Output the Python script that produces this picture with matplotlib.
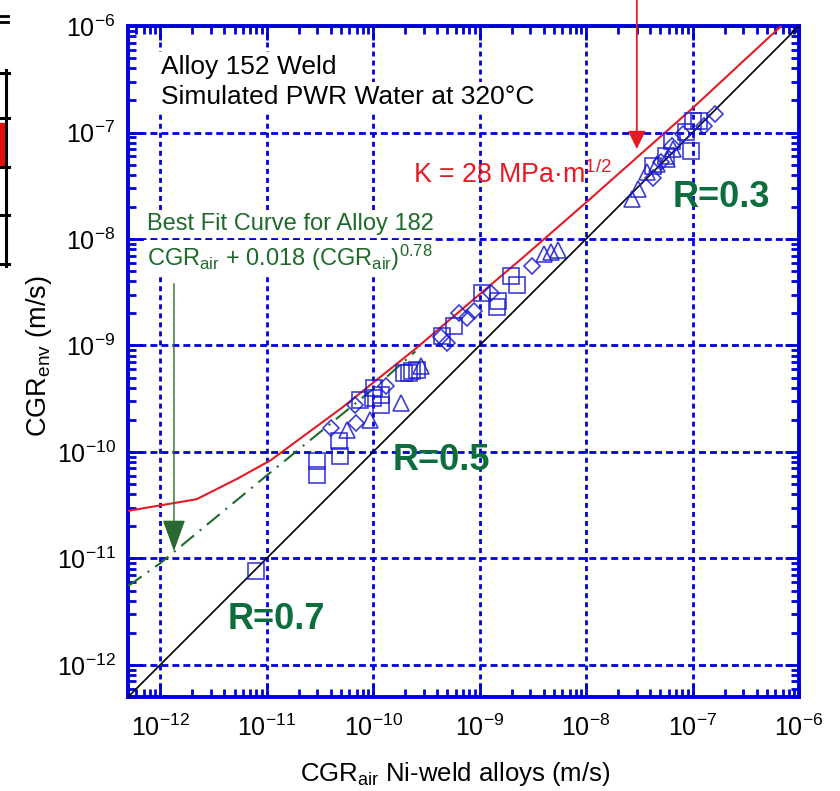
import numpy as np
import matplotlib
matplotlib.use('Agg')
import matplotlib.pyplot as plt
from matplotlib.ticker import FixedLocator, NullFormatter
from matplotlib.lines import Line2D
from matplotlib.patches import Rectangle

plt.rcParams['font.family'] = ['Liberation Sans', 'DejaVu Sans']
plt.rcParams['mathtext.fontset'] = 'custom'
plt.rcParams['mathtext.rm'] = 'Liberation Sans'
plt.rcParams['mathtext.it'] = 'Liberation Sans:italic'
plt.rcParams['mathtext.bf'] = 'Liberation Sans:bold'

blue = '#0000d8'
mk_blue = '#1c1cd0'
red = '#e51b24'
rgreen = '#0d6e3d'
fgreen = '#1e6b2a'

# Crack growth rates (m/s): air reference vs. environment, Alloy 152 weld data
sq_air = [7.9e-12, 3.0e-11, 3.0e-11, 4.8e-11, 4.9e-11, 7.5e-11, 1.02e-10, 1.0e-10,
          1.18e-10, 1.18e-10, 1.95e-10, 2.17e-10, 2.31e-10, 2.58e-10, 4.4e-10,
          5.7e-10, 1.05e-9, 1.45e-9, 1.5e-9, 1.96e-9, 2.23e-9, 4.3e-8, 5.6e-8,
          6.35e-8, 8.6e-8, 9.6e-8, 1.02e-7, 1.14e-7]
sq_env = [7.6e-12, 8.2e-11, 6.1e-11, 1.26e-10, 9.1e-11, 3.05e-10, 3.96e-10, 3.2e-10,
          2.75e-10, 3.4e-10, 5.5e-10, 5.5e-10, 5.7e-10, 5.85e-10, 1.24e-9,
          1.54e-9, 3.08e-9, 2.3e-9, 2.6e-9, 4.5e-9, 3.66e-9, 4.9e-8, 6.05e-8,
          8.4e-8, 1.02e-7, 6.7e-8, 1.29e-7, 1.27e-7]

dm_air = [4.0e-11, 6.7e-11, 6.9e-11, 1.32e-10, 4.35e-10, 5.0e-10, 6.4e-10, 7.6e-10,
          8.8e-10, 1.27e-9, 3.1e-9, 4.3e-8, 5.1e-8, 6.35e-8, 8.2e-8, 1.27e-7, 1.64e-7]
dm_env = [1.67e-10, 2.75e-10, 1.86e-10, 4.14e-10, 1.2e-9, 1.05e-9, 2.0e-9, 1.8e-9,
          2.13e-9, 3.08e-9, 5.6e-9, 3.7e-8, 5.3e-8, 7.5e-8, 9.7e-8, 1.16e-7, 1.5e-7]

tr_air = [5.7e-11, 9.3e-11, 1.82e-10, 2.8e-10, 4.0e-9, 4.66e-9, 5.5e-9, 2.7e-8,
          3.1e-8, 3.7e-8, 4.6e-8, 5.7e-8, 6.6e-8]
tr_env = [1.6e-10, 1.99e-10, 2.86e-10, 6.4e-10, 7.3e-9, 7.6e-9, 7.8e-9, 2.4e-8,
          2.96e-8, 4.3e-8, 5.1e-8, 5.7e-8, 7.0e-8]

# K = 28 MPa m^1/2 curve
k28_air = [5e-13, 2.2e-12, 5.3e-12, 1.1e-11, 5.1e-11, 2.5e-10, 2.6e-9, 1.0e-8, 9.8e-8, 6.8e-7]
k28_env = [2.8e-11, 3.6e-11, 5.6e-11, 8.4e-11, 2.6e-10, 9.3e-10, 6.8e-9, 2.2e-8, 1.66e-7, 1e-6]

# Alloy 182 best fit curve (runs under the red curve above ~1e-10)
fit_air = [5e-13, 1e-12, 1e-11, 1e-10, 2.5e-10]
fit_env = [5.5e-12, 9e-12, 6e-11, 3.9e-10, 8.8e-10]

lims = [5e-13, 1e-6]
decades = 10.0 ** np.arange(-12, -5)
minors = [m * d for d in 10.0 ** np.arange(-13, -6) for m in range(2, 10)
          if lims[0] <= m * d <= lims[1]]

fig = plt.figure(figsize=(8.4, 7.91), dpi=100)
ax = fig.add_axes([0.1524, 0.1188, 0.7988, 0.8483])

ax.plot(lims, lims, color='black', lw=1.2, zorder=3)
ax.plot(fit_air, fit_env, color=fgreen, lw=1.5, ls=(0, (8, 3.5, 1, 3.5)), zorder=3)
ax.plot(k28_air, k28_env, color=red, lw=1.5, zorder=4)

mk = dict(ls='none', mfc='none', mec=mk_blue, mew=1.2, alpha=0.85, zorder=5)
ax.plot(sq_air, sq_env, marker='s', ms=11.5, **mk)
ax.plot(dm_air, dm_env, marker='D', ms=8.5, **mk)
ax.plot(tr_air, tr_env, marker='^', ms=12, **mk)

ax.set_xscale('log')
ax.set_yscale('log')
ax.set_xlim(lims)
ax.set_ylim(lims)

for axis in (ax.xaxis, ax.yaxis):
    axis.set_major_locator(FixedLocator(decades))
    axis.set_minor_locator(FixedLocator(minors))
    axis.set_minor_formatter(NullFormatter())

ax.tick_params(which='both', direction='in', top=True, right=True,
               color=blue, width=2, labelsize=18)
ax.tick_params(which='major', length=10)
ax.tick_params(which='minor', length=5.5)
ax.tick_params(axis='x', pad=13)
ax.tick_params(axis='y', pad=9)
for sp in ax.spines.values():
    sp.set_color(blue)
    sp.set_linewidth(2.8)

ax.xaxis.grid(True, which='major', color=blue, lw=2, ls=(0, (1.8, 1.45)))
ax.yaxis.grid(True, which='major', color=blue, lw=2, ls=(0, (2.5, 1.45)))
ax.set_axisbelow(True)

ax.set_xlabel(r'CGR$_{\mathregular{air}}$ Ni-weld alloys (m/s)', fontsize=18.5, labelpad=13)
ax.set_ylabel(r'CGR$_{\mathregular{env}}$ (m/s)', fontsize=19.5, labelpad=2)
ax.xaxis.label.set_x(0.488)
ax.yaxis.label.set_y(0.508)

white = dict(facecolor='white', edgecolor='none', pad=2)
ax.text(0.049, 0.928, 'Alloy 152 Weld', transform=ax.transAxes, fontsize=19,
        va='baseline', bbox=white, zorder=6)
ax.text(0.049, 0.884, 'Simulated PWR Water at 320°C', transform=ax.transAxes,
        fontsize=19, va='baseline', bbox=white, zorder=6)
ax.text(0.425, 0.766, r'K = 28 MPa·m$^{\mathregular{1/2}}$', transform=ax.transAxes,
        fontsize=19.3, color=red, va='baseline', zorder=6)
ax.text(0.028, 0.696, 'Best Fit Curve for Alloy 182', transform=ax.transAxes,
        fontsize=17, color=fgreen, va='baseline', bbox=white, zorder=6)
ax.text(0.028, 0.642,
        r'CGR$_{\mathregular{air}}$ + 0.018 (CGR$_{\mathregular{air}}$)$^{\mathregular{0.78}}$',
        transform=ax.transAxes, fontsize=17, color=fgreen, va='baseline',
        bbox=white, zorder=6)

for x, y, s in [(0.812, 0.730, 'R=0.3'), (0.395, 0.338, 'R=0.5'), (0.149, 0.101, 'R=0.7')]:
    ax.text(x, y, s, transform=ax.transAxes, fontsize=26, fontweight='bold',
            color=rgreen, va='baseline', zorder=6)

ax.annotate('', xy=(3e-8, 7.0e-8), xytext=(3e-8, 1.8e-6), annotation_clip=False,
            arrowprops=dict(arrowstyle='-|>,head_length=0.55,head_width=0.27',
                            mutation_scale=20, color=red, lw=1.3,
                            shrinkA=0, shrinkB=0), zorder=7)
ax.annotate('', xy=(1.35e-12, 1.17e-11), xytext=(1.35e-12, 3.8e-9),
            arrowprops=dict(arrowstyle='-|>,head_length=1.0,head_width=0.36',
                            mutation_scale=20, color='#2a6a32', lw=1.0,
                            shrinkA=0, shrinkB=0), zorder=7)

# edge of the adjacent panel
W, H = 840.0, 791.0
def px_line(x0, y0, x1, y1, lw):
    fig.add_artist(Line2D([x0 / W, x1 / W], [1 - y0 / H, 1 - y1 / H],
                          color='black', lw=lw, transform=fig.transFigure))
fig.add_artist(Rectangle((0, 1 - 167 / H), 4 / W, 44 / H, color='#e01010',
                         transform=fig.transFigure))
px_line(6, 70, 6, 266, 2.2)
for yy in [73, 118, 167, 215, 264]:
    px_line(0, yy, 9, yy, 2.2)
for yy in [16, 22]:
    px_line(0, yy, 8, yy, 2.0)

fig.savefig('out.png', dpi=100)
